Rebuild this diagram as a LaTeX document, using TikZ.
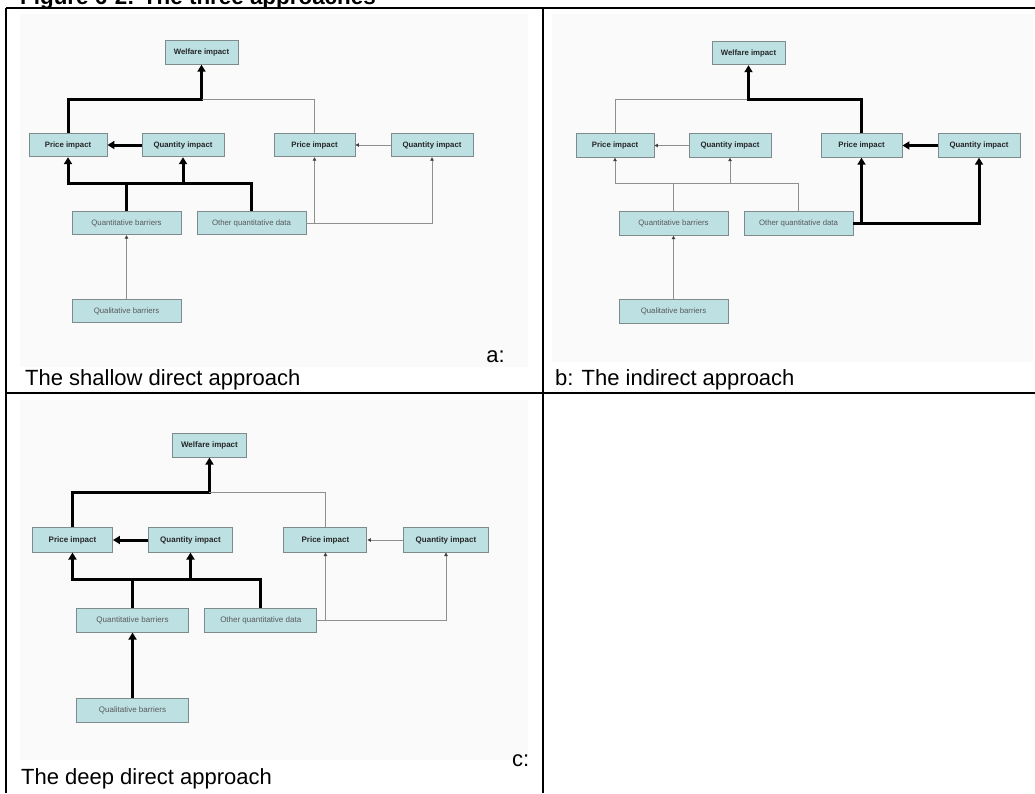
\documentclass[tikz,border=0pt]{standalone}
\usepackage{fontspec}
\setmainfont{Liberation Sans}
\usetikzlibrary{arrows.meta}

\definecolor{boxfill}{HTML}{BDE0E3}
\definecolor{boxline}{HTML}{7F8A8C}
\definecolor{wire}{HTML}{8F8F8F}
\definecolor{imgbg}{HTML}{FAFAFA}

\tikzset{
  box/.style={draw=boxline, fill=boxfill, line width=0.9pt, inner sep=0pt,
    minimum height=23.5pt, font=\fontsize{7.8}{9}\selectfont},
  topbox/.style={box, font=\fontsize{7.8}{9}\selectfont\bfseries, text=black!85},
  lowbox/.style={box, minimum width=109pt, text=black!65},
  strong/.style={line width=3pt, black, line join=miter},
  strongarrow/.style={strong, -{Triangle[length=7pt,width=8pt]}},
  weak/.style={line width=1pt, wire},
  weakarrow/.style={weak, -{Triangle[length=3.5pt,width=3.5pt,color=black!75]}},
  rule/.style={line width=2pt, black},
  caption/.style={font=\fontsize{22}{26}\selectfont, inner sep=0pt},
}

% The eight boxes of one flow chart, names prefixed with #1
\newcommand\approachnodes[1]{%
  \node[topbox, minimum width=73pt] (#1wel) at (201.5,52.5) {Welfare impact};
  \node[topbox, minimum width=78pt] (#1pl)  at (68,145)    {Price impact};
  \node[topbox, minimum width=82pt] (#1ql)  at (183,145)   {Quantity impact};
  \node[topbox, minimum width=81pt] (#1pr)  at (314.5,145) {Price impact};
  \node[topbox, minimum width=82pt] (#1qr)  at (432,145)   {Quantity impact};
  \node[lowbox] (#1qb)   at (126.5,223) {Quantitative barriers};
  \node[lowbox] (#1od)   at (251.5,223) {Other quantitative data};
  \node[lowbox] (#1qual) at (126.5,311) {Qualitative barriers};
  \coordinate (#1top) at (0,99);
  \coordinate (#1bus) at (0,183);
}

\begin{document}
\begin{tikzpicture}[x=1pt, y=-1pt]
  \useasboundingbox (0,0) rectangle (1035,793);
  \clip (0,0) rectangle (1035,793);

  % light backgrounds of the three embedded charts
  \fill[imgbg] (20,14) rectangle (528,367);
  \fill[imgbg] (552,14) rectangle (1033,362);
  \fill[imgbg] (20,400) rectangle (528,760);

  % heading
  \node[anchor=base west, inner sep=0pt, font=\fontsize{22.4}{26}\selectfont\bfseries]
    (title) at (20,4) {Figure 6-2: The three approaches};

  % table rules
  \draw[rule] (6,8) -- (1035,8);
  \draw[rule] (6,393) -- (1035,393);
  \draw[rule] (6,8) -- (6,793);
  \draw[rule] (543,8) -- (543,793);

  % ---------- a: shallow direct ----------
  \begin{scope}
    \approachnodes{a-}
    \draw[strongarrow] (a-pl.north) |- (a-wel.south |- a-top) -- (a-wel.south);
    \draw[weak] (a-wel.south |- a-top) -| (a-pr.north);
    \draw[strongarrow] (a-ql.west) -- (a-pl.east);
    \draw[weakarrow] (a-qr.west) -- (a-pr.east);
    \draw[strongarrow] (a-od.north) |- (a-pl.south |- a-bus) -- (a-pl.south);
    \draw[strong] (a-qb.north) -- (a-qb.north |- a-bus);
    \draw[strongarrow] (a-ql.south |- a-bus) -- (a-ql.south);
    \draw[weakarrow] (a-od.east) -| (a-qr.south);
    \draw[weakarrow] (a-pr.south |- a-od.east) -- (a-pr.south);
    \draw[weakarrow] (a-qual.north) -- (a-qb.south);
  \end{scope}
  \node[caption, anchor=base east] (cap-a-tag) at (505,362) {a:};
  \node[caption, anchor=base west] (cap-a) at (25,385) {The shallow direct approach};

  % ---------- b: indirect ----------
  \begin{scope}[shift={(547,0.5)}]
    \approachnodes{b-}
    \draw[weak] (b-pl.north) |- (b-wel.south |- b-top);
    \draw[strongarrow] (b-pr.north) |- (b-wel.south |- b-top) -- (b-wel.south);
    \draw[weakarrow] (b-ql.west) -- (b-pl.east);
    \draw[strongarrow] (b-qr.west) -- (b-pr.east);
    \draw[weakarrow] (b-od.north) |- (b-pl.south |- b-bus) -- (b-pl.south);
    \draw[weak] (b-qb.north) -- (b-qb.north |- b-bus);
    \draw[weakarrow] (b-ql.south |- b-bus) -- (b-ql.south);
    \draw[strongarrow] (b-od.east) -| (b-qr.south);
    \draw[strongarrow] (b-pr.south |- b-od.east) -- (b-pr.south);
    \draw[weakarrow] (b-qual.north) -- (b-qb.south);
  \end{scope}
  \node[caption, anchor=base west] (cap-b) at (555,385) {b: The indirect approach};

  % ---------- c: deep direct ----------
  \begin{scope}[shift={(2.7,391.2)}, scale=1.026, transform shape]
    \approachnodes{c-}
    \draw[strongarrow] (c-pl.north) |- (c-wel.south |- c-top) -- (c-wel.south);
    \draw[weak] (c-wel.south |- c-top) -| (c-pr.north);
    \draw[strongarrow] (c-ql.west) -- (c-pl.east);
    \draw[weakarrow] (c-qr.west) -- (c-pr.east);
    \draw[strongarrow] (c-od.north) |- (c-pl.south |- c-bus) -- (c-pl.south);
    \draw[strong] (c-qb.north) -- (c-qb.north |- c-bus);
    \draw[strongarrow] (c-ql.south |- c-bus) -- (c-ql.south);
    \draw[weakarrow] (c-od.east) -| (c-qr.south);
    \draw[weakarrow] (c-pr.south |- c-od.east) -- (c-pr.south);
    \draw[strongarrow] (c-qual.north) -- (c-qb.south);
  \end{scope}
  \node[caption, anchor=base west] (cap-c-tag) at (512,766) {c:};
  \node[caption, anchor=base west] (cap-c) at (21,784) {The deep direct approach};
\end{tikzpicture}
\end{document}
